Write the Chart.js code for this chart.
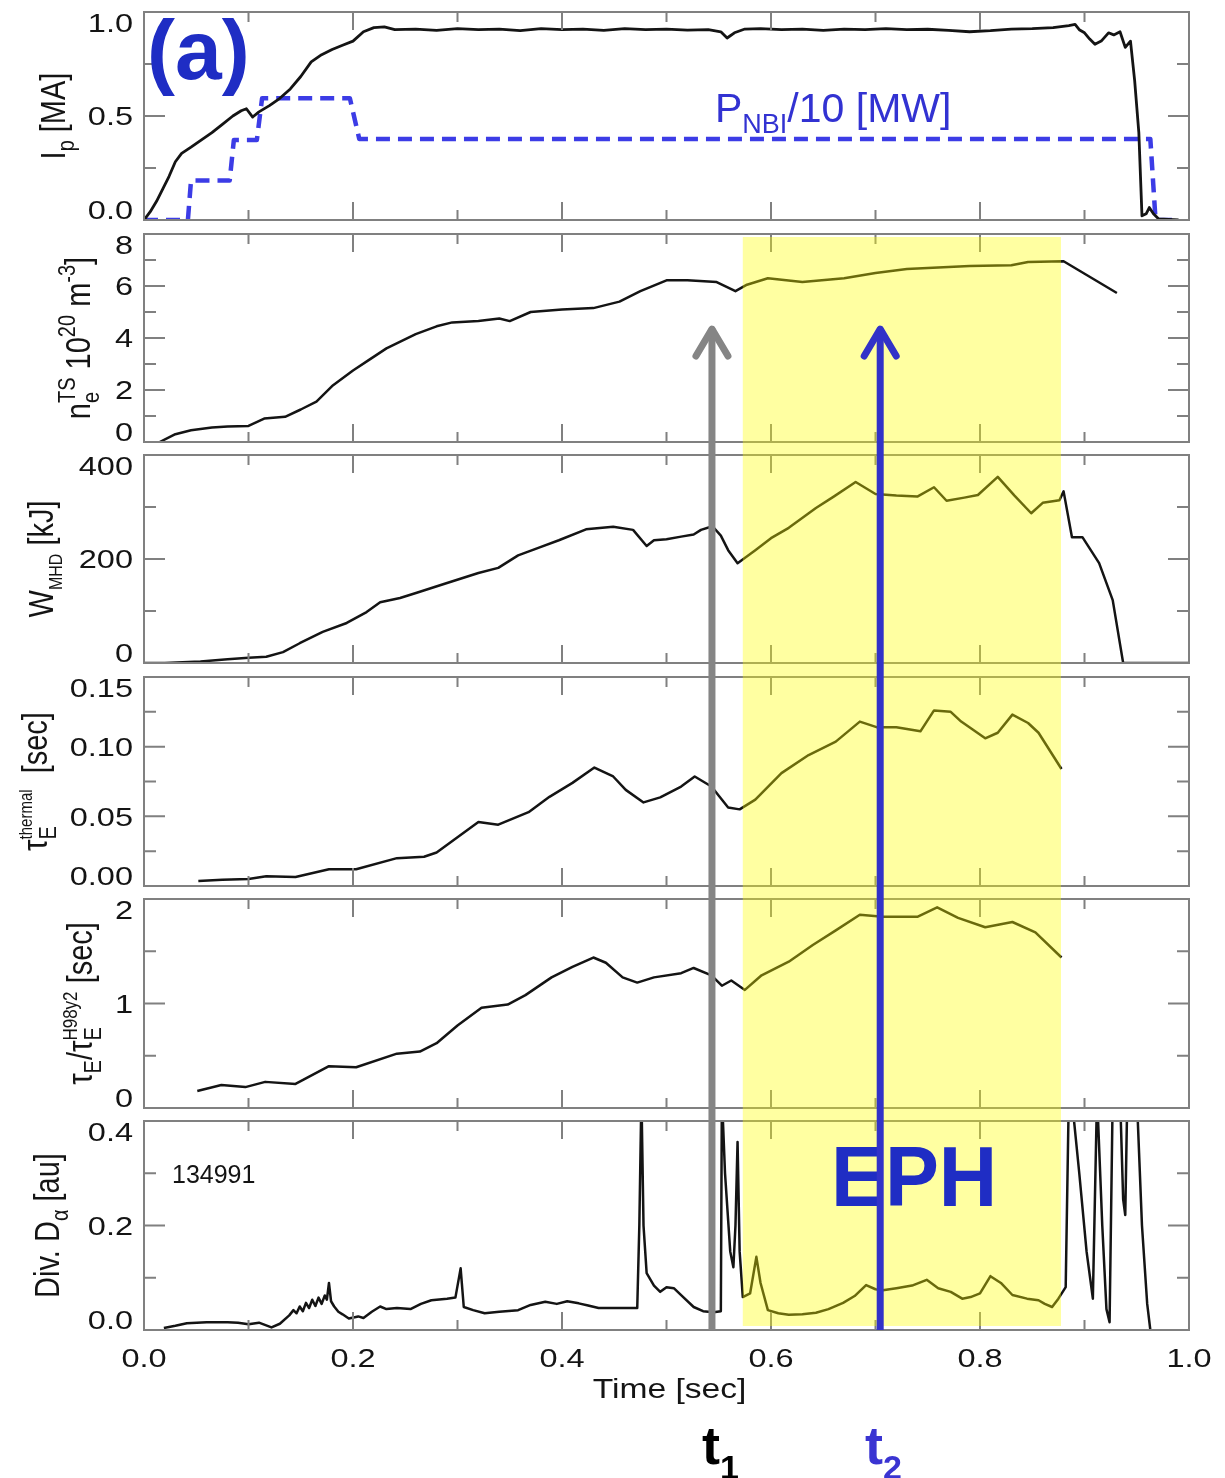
<!DOCTYPE html>
<html>
<head>
<meta charset="utf-8">
<script src="https://cdn.jsdelivr.net/npm/chart.js@4.4.0/dist/chart.umd.min.js"></script>
<style>
body { margin: 0; background: #fff; }
#wrap { position: relative; width: 1225px; height: 1478px; overflow: hidden; }
#wrap canvas { position: absolute; left: 0; }
</style>
</head>
<body>
<div id="wrap"></div>
<script>
// ---- data ----
var xTicks = [0, 0.2, 0.4, 0.6, 0.8, 1.0];
var xTickLabels = ['0.0', '0.2', '0.4', '0.6', '0.8', '1.0'];
var xMinor = [0.1, 0.3, 0.5, 0.7, 0.9];

var ipTime = [0, 0.006, 0.012, 0.018, 0.024, 0.03, 0.036, 0.045, 0.055, 0.065, 0.075, 0.085, 0.093, 0.098, 0.104, 0.11, 0.12, 0.13, 0.14, 0.15, 0.16, 0.17, 0.18, 0.19, 0.2, 0.21, 0.22, 0.23, 0.24, 0.26, 0.28, 0.3, 0.32, 0.34, 0.36, 0.38, 0.4, 0.42, 0.44, 0.46, 0.48, 0.5, 0.52, 0.54, 0.552, 0.558, 0.565, 0.575, 0.59, 0.61, 0.63, 0.65, 0.67, 0.69, 0.71, 0.73, 0.75, 0.77, 0.79, 0.81, 0.83, 0.85, 0.87, 0.885, 0.891, 0.895, 0.9, 0.905, 0.91, 0.916, 0.923, 0.928, 0.934, 0.939, 0.944, 0.948, 0.952, 0.955, 0.959, 0.962, 0.966, 0.971, 0.99];
var ipValue = [0, 0.04, 0.09, 0.15, 0.21, 0.28, 0.32, 0.35, 0.385, 0.42, 0.46, 0.5, 0.525, 0.535, 0.495, 0.52, 0.55, 0.585, 0.63, 0.69, 0.76, 0.795, 0.82, 0.84, 0.86, 0.905, 0.925, 0.928, 0.915, 0.918, 0.912, 0.92, 0.915, 0.918, 0.91, 0.92, 0.915, 0.918, 0.912, 0.92, 0.915, 0.918, 0.913, 0.915, 0.905, 0.875, 0.9, 0.918, 0.92, 0.915, 0.918, 0.912, 0.918, 0.915, 0.92, 0.915, 0.917, 0.912, 0.905, 0.91, 0.918, 0.92, 0.925, 0.935, 0.94, 0.915, 0.9, 0.87, 0.845, 0.86, 0.9, 0.89, 0.905, 0.83, 0.86, 0.67, 0.42, 0.02, 0.03, 0.06, 0.03, 0.005, 0];

var pnbiTime = [0, 0.042, 0.045, 0.082, 0.086, 0.108, 0.113, 0.197, 0.206, 0.963, 0.968, 0.99];
var pnbiValue = [0, 0, 0.19, 0.19, 0.385, 0.385, 0.585, 0.585, 0.39, 0.39, 0, 0];

var neTime = [0.015, 0.03, 0.045, 0.065, 0.08, 0.1, 0.115, 0.135, 0.15, 0.165, 0.18, 0.2, 0.215, 0.232, 0.26, 0.28, 0.295, 0.32, 0.34, 0.35, 0.37, 0.4, 0.43, 0.455, 0.475, 0.5, 0.52, 0.548, 0.566, 0.577, 0.597, 0.63, 0.67, 0.7, 0.73, 0.79, 0.83, 0.846, 0.88, 0.931];
var neValue = [0.0, 0.3, 0.45, 0.56, 0.6, 0.62, 0.9, 0.97, 1.25, 1.55, 2.15, 2.75, 3.15, 3.6, 4.15, 4.45, 4.6, 4.65, 4.75, 4.65, 5.0, 5.1, 5.15, 5.4, 5.8, 6.22, 6.22, 6.15, 5.8, 6.05, 6.3, 6.15, 6.3, 6.5, 6.65, 6.77, 6.8, 6.92, 6.95, 5.73];

var wTime = [0, 0.02, 0.054, 0.08, 0.1, 0.117, 0.133, 0.149, 0.171, 0.194, 0.213, 0.226, 0.245, 0.261, 0.287, 0.32, 0.339, 0.358, 0.378, 0.397, 0.423, 0.449, 0.468, 0.481, 0.488, 0.5, 0.514, 0.526, 0.533, 0.544, 0.552, 0.559, 0.568, 0.585, 0.6, 0.617, 0.643, 0.66, 0.681, 0.7, 0.72, 0.74, 0.756, 0.768, 0.785, 0.798, 0.817, 0.833, 0.849, 0.86, 0.876, 0.88, 0.888, 0.898, 0.914, 0.927, 0.937, 1.0];
var wValue = [0, 0, 3, 7, 10, 12, 21, 38, 60, 77, 98, 117, 125, 135, 152, 173, 183, 207, 222, 236, 257, 262, 256, 225, 236, 238, 243, 247, 256, 263, 245, 217, 192, 217, 240, 260, 298, 320, 348, 325, 322, 320, 338, 312, 318, 323, 358, 322, 288, 308, 313, 330, 242, 242, 192, 121, 0, 0];

var tauTime = [0.052, 0.075, 0.1, 0.117, 0.145, 0.177, 0.203, 0.242, 0.268, 0.28, 0.3, 0.32, 0.339, 0.368, 0.388, 0.41, 0.431, 0.449, 0.461, 0.478, 0.494, 0.514, 0.527, 0.543, 0.559, 0.57, 0.585, 0.61, 0.636, 0.662, 0.685, 0.701, 0.72, 0.743, 0.756, 0.772, 0.782, 0.805, 0.817, 0.831, 0.846, 0.856, 0.878];
var tauValue = [0.0036, 0.0045, 0.005, 0.007, 0.0064, 0.012, 0.012, 0.02, 0.021, 0.024, 0.035, 0.046, 0.044, 0.053, 0.064, 0.074, 0.085, 0.0786, 0.069, 0.06, 0.0636, 0.0714, 0.0786, 0.0714, 0.0564, 0.055, 0.062, 0.081, 0.094, 0.1036, 0.118, 0.114, 0.114, 0.111, 0.126, 0.125, 0.118, 0.106, 0.11, 0.123, 0.117, 0.11, 0.084];

var ratioTime = [0.051, 0.074, 0.097, 0.116, 0.145, 0.177, 0.203, 0.242, 0.264, 0.28, 0.3, 0.323, 0.348, 0.365, 0.39, 0.41, 0.43, 0.442, 0.458, 0.472, 0.488, 0.514, 0.526, 0.543, 0.553, 0.562, 0.575, 0.591, 0.617, 0.64, 0.662, 0.685, 0.707, 0.74, 0.759, 0.779, 0.805, 0.831, 0.853, 0.878];
var ratioValue = [0.163, 0.22, 0.2, 0.25, 0.23, 0.4, 0.39, 0.52, 0.54, 0.62, 0.79, 0.96, 0.99, 1.08, 1.25, 1.35, 1.44, 1.39, 1.25, 1.2, 1.25, 1.29, 1.34, 1.27, 1.17, 1.22, 1.13, 1.27, 1.4, 1.56, 1.7, 1.85, 1.83, 1.83, 1.92, 1.82, 1.73, 1.78, 1.68, 1.44];

var daTime = [0.019, 0.03, 0.041, 0.06, 0.08, 0.09, 0.1, 0.11, 0.122, 0.13, 0.139, 0.143, 0.146, 0.149, 0.152, 0.155, 0.158, 0.161, 0.164, 0.167, 0.17, 0.173, 0.175, 0.177, 0.179, 0.182, 0.186, 0.19, 0.196, 0.205, 0.21, 0.218, 0.226, 0.232, 0.242, 0.255, 0.265, 0.275, 0.29, 0.298, 0.303, 0.306, 0.315, 0.326, 0.34, 0.358, 0.37, 0.384, 0.395, 0.405, 0.416, 0.425, 0.435, 0.45, 0.472, 0.474, 0.476, 0.478, 0.481, 0.488, 0.494, 0.5, 0.507, 0.515, 0.526, 0.535, 0.545, 0.552, 0.553, 0.556, 0.561, 0.564, 0.566, 0.568, 0.57, 0.573, 0.58, 0.586, 0.59, 0.597, 0.607, 0.617, 0.63, 0.643, 0.655, 0.669, 0.68, 0.691, 0.7, 0.707, 0.72, 0.735, 0.749, 0.76, 0.772, 0.783, 0.791, 0.8, 0.81, 0.82, 0.831, 0.845, 0.856, 0.862, 0.869, 0.875, 0.882, 0.885, 0.889, 0.895, 0.902, 0.908, 0.912, 0.917, 0.921, 0.924, 0.927, 0.934, 0.937, 0.939, 0.941, 0.95, 0.955, 0.96, 0.963];
var daValue = [0.004, 0.008, 0.013, 0.015, 0.015, 0.014, 0.011, 0.014, 0.005, 0.012, 0.028, 0.038, 0.032, 0.045, 0.036, 0.052, 0.042, 0.058, 0.046, 0.062, 0.05, 0.066, 0.058, 0.09, 0.055, 0.045, 0.035, 0.03, 0.022, 0.026, 0.023, 0.035, 0.045, 0.04, 0.042, 0.04, 0.05, 0.057, 0.06, 0.062, 0.118, 0.044, 0.038, 0.032, 0.035, 0.038, 0.048, 0.054, 0.05, 0.055, 0.051, 0.047, 0.042, 0.042, 0.042, 0.2, 0.45, 0.2, 0.109, 0.085, 0.073, 0.082, 0.08, 0.065, 0.044, 0.036, 0.034, 0.036, 0.45, 0.3, 0.15, 0.12, 0.2, 0.36, 0.15, 0.063, 0.07, 0.14, 0.09, 0.038, 0.032, 0.029, 0.03, 0.033, 0.04, 0.052, 0.065, 0.086, 0.078, 0.076, 0.08, 0.085, 0.096, 0.08, 0.073, 0.06, 0.063, 0.07, 0.103, 0.09, 0.067, 0.06, 0.057, 0.05, 0.044, 0.06, 0.082, 0.45, 0.42, 0.3, 0.15, 0.06, 0.45, 0.2, 0.04, 0.015, 0.45, 0.45, 0.25, 0.22, 0.45, 0.45, 0.2, 0.05, 0.0];

var ephWindow = [0.573, 0.8775];   // shaded EPH interval [sec]
var arrowTimes = [0.5435, 0.7045]; // t1, t2
var arrowTipNe = 4.42;             // arrow heads end at this n_e level

// ---- layout ----
var FONT = '"Liberation Sans", Arial, Helvetica, sans-serif';
var W = 1225;
var plotLeft = 144, plotRight = 1189;
var panelTops = [12, 234, 455, 677, 899, 1121];
var panelBottoms = [220, 442, 663, 886, 1108, 1330];
var cuts = [0, 227, 449, 670, 892, 1115, 1478];
var FRAME = '#808080';
var INK = '#141414';
var BLUE = '#1f2dc4';

function pts(xs, ys) {
    return xs.map(function (x, i) { return { x: x, y: ys[i] }; });
}

var panels = [
    {
        series: [
            { data: pts(ipTime, ipValue), color: INK, width: 2.8 },
            { data: pts(pnbiTime, pnbiValue), color: '#3c3ce6', width: 4.5, dash: [14, 8] }
        ],
        min: 0, max: 1, ticks: [0, 0.5, 1], labels: ['0.0', '0.5', '1.0'], minor: [0.25, 0.75],
        titleX: 65, title: [{ t: 'I' }, { sub: 'p' }, { t: ' [MA]' }]
    },
    {
        series: [{ data: pts(neTime, neValue), color: INK, width: 2.5 }],
        min: 0, max: 8, ticks: [0, 2, 4, 6, 8], labels: ['0', '2', '4', '6', '8'], minor: [1, 3, 5, 7],
        titleX: 90, title: [{ t: 'n' }, { sub: 'e', sup: 'TS' }, { t: ' 10' }, { sup: '20' }, { t: ' m' }, { sup: '-3' }, { t: ']' }]
    },
    {
        series: [{ data: pts(wTime, wValue), color: INK, width: 2.5 }],
        min: 0, max: 400, ticks: [0, 200, 400], labels: ['0', '200', '400'], minor: [100, 300],
        titleX: 53, title: [{ t: 'W' }, { sub: 'MHD', subSize: 16 }, { t: ' [kJ]' }]
    },
    {
        series: [{ data: pts(tauTime, tauValue), color: INK, width: 2.5 }],
        min: 0, max: 0.15, ticks: [0, 0.05, 0.10, 0.15], labels: ['0.00', '0.05', '0.10', '0.15'], minor: [0.025, 0.075, 0.125],
        titleX: 47, title: [{ t: 'τ' }, { sub: 'E', sup: 'thermal', supSize: 15 }, { t: '  [sec]' }]
    },
    {
        series: [{ data: pts(ratioTime, ratioValue), color: INK, width: 2.5 }],
        min: 0, max: 2, ticks: [0, 1, 2], labels: ['0', '1', '2'], minor: [0.5, 1.5],
        titleX: 92, title: [{ t: 'τ' }, { sub: 'E' }, { t: '/τ' }, { sub: 'E', sup: 'H98y2', supSize: 17 }, { t: ' [sec]' }]
    },
    {
        series: [{ data: pts(daTime, daValue), color: INK, width: 2.5 }],
        min: 0, max: 0.4, ticks: [0, 0.2, 0.4], labels: ['0.0', '0.2', '0.4'], minor: [0.1, 0.3],
        titleX: 59, title: [{ t: 'Div. D' }, { sub: 'α' }, { t: ' [au]' }]
    }
];

function font(size, bold) {
    return (bold ? 'bold ' : '') + size + 'px ' + FONT;
}

// rich text with sub/superscripts, drawn along the current x axis
function segWidth(ctx, s, main, small, bold) {
    var w = 0;
    if (s.t !== undefined) { ctx.font = font(main, bold); w = ctx.measureText(s.t).width; }
    if (s.sub) { ctx.font = font(s.subSize || small, bold); w = Math.max(w, ctx.measureText(s.sub).width); }
    if (s.sup) { ctx.font = font(s.supSize || small, bold); w = Math.max(w, ctx.measureText(s.sup).width); }
    return w;
}
function richWidth(ctx, segs, main, small, bold) {
    return segs.reduce(function (acc, s) { return acc + segWidth(ctx, s, main, small, bold); }, 0);
}
function drawRich(ctx, segs, x, y, main, small, bold) {
    segs.forEach(function (s) {
        if (s.t !== undefined) { ctx.font = font(main, bold); ctx.fillText(s.t, x, y); }
        if (s.sub) { ctx.font = font(s.subSize || small, bold); ctx.fillText(s.sub, x, y + main * 0.27); }
        if (s.sup) { ctx.font = font(s.supSize || small, bold); ctx.fillText(s.sup, x, y - main * 0.42); }
        x += segWidth(ctx, s, main, small, bold);
    });
}

function stretchedText(ctx, text, x, y, size, sx, align) {
    ctx.save();
    ctx.translate(x, y);
    ctx.scale(sx, 1);
    ctx.font = font(size);
    ctx.textAlign = align;
    ctx.fillText(text, 0, 0);
    ctx.restore();
}

function makePlugin(idx) {
    var p = panels[idx];
    return {
        id: 'panel' + idx,
        afterDatasetsDraw: function (chart) {
            var ctx = chart.ctx, a = chart.chartArea;
            var xs = chart.scales.x, ys = chart.scales.y;
            ctx.save();

            // box and inward ticks
            ctx.strokeStyle = FRAME;
            ctx.lineWidth = 2;
            ctx.strokeRect(a.left, a.top, a.right - a.left, a.bottom - a.top);
            ctx.beginPath();
            xTicks.concat(xMinor).forEach(function (v, i) {
                var len = i < xTicks.length ? 18 : 10;
                var px = xs.getPixelForValue(v);
                ctx.moveTo(px, a.top); ctx.lineTo(px, a.top + len);
                ctx.moveTo(px, a.bottom); ctx.lineTo(px, a.bottom - len);
            });
            p.ticks.concat(p.minor).forEach(function (v, i) {
                var len = i < p.ticks.length ? 21 : 12;
                var py = ys.getPixelForValue(v);
                ctx.moveTo(a.left, py); ctx.lineTo(a.left + len, py);
                ctx.moveTo(a.right, py); ctx.lineTo(a.right - len, py);
            });
            ctx.stroke();

            // y tick labels (end labels kept inside the box)
            ctx.fillStyle = INK;
            var cap = 26 * 0.716;
            p.ticks.forEach(function (v, i) {
                var py = ys.getPixelForValue(v);
                var base = py + cap / 2;
                if (i === 0) base = a.bottom - 1;
                if (i === p.ticks.length - 1) base = a.top + cap + 1;
                stretchedText(ctx, p.labels[i], a.left - 11, base, 26, 1.25, 'right');
            });

            // y title, rotated
            ctx.save();
            ctx.translate(p.titleX, (a.top + a.bottom) / 2);
            ctx.scale(1.2, 1);
            ctx.rotate(-Math.PI / 2);
            ctx.textAlign = 'left';
            var tw = richWidth(ctx, p.title, 29, 20);
            drawRich(ctx, p.title, -tw / 2, 0, 29, 20);
            ctx.restore();

            if (idx === 0) {
                ctx.fillStyle = BLUE;
                ctx.font = font(84, true);
                ctx.fillText('(a)', 147, 79);
                ctx.fillStyle = '#3232d2';
                drawRich(ctx, [{ t: 'P' }, { sub: 'NBI', subSize: 27 }, { t: '/10 [MW]' }], 715, 122, 41, 27);
            }

            if (idx === 5) {
                ctx.fillStyle = INK;
                ctx.font = font(25);
                ctx.fillText('134991', 172, 1183 - cuts[5]);
                xTicks.forEach(function (v, i) {
                    stretchedText(ctx, xTickLabels[i], xs.getPixelForValue(v), a.bottom + 37, 26, 1.25, 'center');
                });
                stretchedText(ctx, 'Time [sec]', (a.left + a.right) / 2 + 3, a.bottom + 68, 28, 1.2, 'center');
                ctx.fillStyle = '#000';
                drawRich(ctx, [{ t: 't' }, { sub: '1', subSize: 34 }], 702, a.bottom + 134, 54, 34, true);
                ctx.fillStyle = '#3a34d2';
                drawRich(ctx, [{ t: 't' }, { sub: '2', subSize: 34 }], 865, a.bottom + 134, 54, 34, true);
            }

            // shaded EPH window, spanning panels 2-6
            if (idx > 0) {
                var x0 = xs.getPixelForValue(ephWindow[0]);
                var x1 = xs.getPixelForValue(ephWindow[1]);
                var yTop = idx === 1 ? a.top + 3 : 0;
                var yBot = idx === 5 ? a.bottom - 4 : chart.height;
                ctx.fillStyle = 'rgba(255,255,0,0.37)';
                ctx.fillRect(x0, yTop, x1 - x0, yBot - yTop);
            }

            if (idx === 5) {
                ctx.save();
                ctx.fillStyle = BLUE;
                ctx.translate(831, 1206 - cuts[5]);
                ctx.scale(0.94, 1);
                ctx.font = font(86, true);
                ctx.fillText('EPH', 0, 0);
                ctx.restore();
            }

            // t1 / t2 arrows
            if (idx > 0) {
                ['#858585', '#3232c8'].forEach(function (col, k) {
                    var ax = xs.getPixelForValue(arrowTimes[k]);
                    var tip = idx === 1 ? ys.getPixelForValue(arrowTipNe) : 0;
                    var bot = idx === 5 ? a.bottom : chart.height;
                    ctx.strokeStyle = col;
                    ctx.lineWidth = 7;
                    ctx.lineCap = idx === 1 ? 'round' : 'butt';
                    ctx.lineJoin = 'round';
                    ctx.beginPath();
                    ctx.moveTo(ax, idx === 1 ? tip + 3 : tip);
                    ctx.lineTo(ax, bot);
                    ctx.stroke();
                    if (idx === 1) {
                        ctx.beginPath();
                        ctx.moveTo(ax - 16, tip + 29);
                        ctx.lineTo(ax, tip + 2);
                        ctx.lineTo(ax + 16, tip + 29);
                        ctx.stroke();
                    }
                });
            }

            ctx.restore();
        }
    };
}

var wrap = document.getElementById('wrap');
panels.forEach(function (p, i) {
    var c = document.createElement('canvas');
    var h = cuts[i + 1] - cuts[i];
    c.width = W; c.height = h;
    c.style.top = cuts[i] + 'px';
    c.style.width = W + 'px'; c.style.height = h + 'px';
    wrap.appendChild(c);

    new Chart(c.getContext('2d'), {
        type: 'line',
        data: {
            datasets: p.series.map(function (s) {
                return {
                    data: s.data,
                    borderColor: s.color,
                    borderWidth: s.width,
                    borderDash: s.dash || [],
                    borderJoinStyle: 'round',
                    pointRadius: 0,
                    tension: 0,
                    fill: false,
                    clip: 0
                };
            })
        },
        options: {
            responsive: false,
            animation: false,
            events: [],
            devicePixelRatio: 1,
            layout: {
                padding: {
                    left: plotLeft,
                    right: W - plotRight,
                    top: panelTops[i] - cuts[i],
                    bottom: cuts[i + 1] - panelBottoms[i]
                }
            },
            scales: {
                x: { type: 'linear', min: 0, max: 1, display: false },
                y: { type: 'linear', min: p.min, max: p.max, display: false }
            },
            plugins: { legend: { display: false }, tooltip: { enabled: false } }
        },
        plugins: [makePlugin(i)]
    });
});
</script>
</body>
</html>
